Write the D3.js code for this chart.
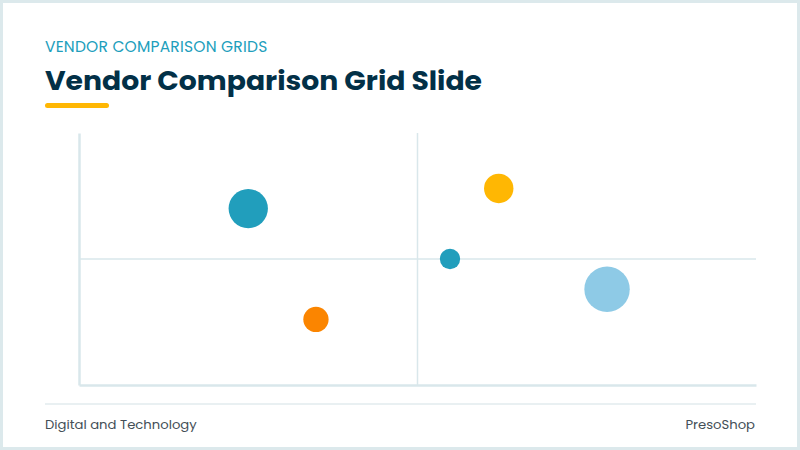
<!DOCTYPE html>
<html>
<head>
<meta charset="utf-8">
<script src="https://cdn.jsdelivr.net/npm/d3@7"></script>
<style>
  html, body { margin: 0; padding: 0; background: #dce9ec; }
  svg { display: block; }
  text { font-family: "Poppins", "Inter", "Open Sans", sans-serif; }
</style>
</head>
<body>
<div id="chart"></div>
<script>
const svgWidth = 800, svgHeight = 450,
    plot = { left: 79, right: 756, top: 133, bottom: 385 };

// vendors: x = capability, y = vision, size = market share
const vendors = ["Vendor A", "Vendor B", "Vendor C", "Vendor D", "Vendor E"];
const xValues = [2.5, 3.5, 5.48, 6.2, 7.8];
const yValues = [7.0, 2.6, 5.0, 7.8, 3.8];
const sizeValues = [75, 31, 20, 42, 100];
const colors = ["#219ebc", "#fb8500", "#219ebc", "#ffb703", "#8ecae6"];

const xDomain = [0, 10], yDomain = [0, 10];

let svg = d3.select("#chart").append("svg")
    .attr("width", svgWidth)
    .attr("height", svgHeight);

// white card
svg.append("rect")
    .attr("x", 3).attr("y", 3)
    .attr("width", svgWidth - 6).attr("height", svgHeight - 6)
    .attr("fill", "#ffffff");

// header
svg.append("text")
    .attr("x", 45).attr("y", 52)
    .attr("font-size", 15.5)
    .attr("fill", "#219ebc")
    .attr("letter-spacing", 0.2)
    .text("VENDOR COMPARISON GRIDS");

let title = svg.append("text")
    .attr("x", 45).attr("y", 90)
    .attr("font-size", 27)
    .attr("font-weight", 700)
    .attr("fill", "#023047")
    .text("Vendor Comparison Grid Slide");
// stretch to the width of the original heading
let tw = title.node().getComputedTextLength();
if (tw > 0) title.attr("textLength", 437).attr("lengthAdjust", "spacingAndGlyphs");

svg.append("rect")
    .attr("x", 45).attr("y", 103)
    .attr("width", 64).attr("height", 5)
    .attr("rx", 2.5)
    .attr("fill", "#ffb703");

// scales
let xScale = d3.scaleLinear().domain(xDomain).range([plot.left, plot.right]);
let yScale = d3.scaleLinear().domain(yDomain).range([plot.bottom, plot.top]);
let rScale = d3.scaleSqrt().domain([0, d3.max(sizeValues)]).range([0, 22.7]);

const gridColor = "#d9e7eb";

// quadrant lines
svg.append("line")
    .attr("x1", xScale(5)).attr("x2", xScale(5))
    .attr("y1", plot.top).attr("y2", plot.bottom)
    .attr("stroke", gridColor).attr("stroke-width", 1.5);
svg.append("line")
    .attr("x1", plot.left).attr("x2", plot.right)
    .attr("y1", yScale(5)).attr("y2", yScale(5))
    .attr("stroke", gridColor).attr("stroke-width", 1.5);

// axes (no ticks)
svg.append("g")
    .attr("transform", `translate(0, ${plot.bottom})`)
    .call(d3.axisBottom(xScale).tickValues([]).tickSizeOuter(0))
    .call(g => g.select(".domain").attr("stroke", gridColor).attr("stroke-width", 2.5));
svg.append("g")
    .attr("transform", `translate(${plot.left}, 0)`)
    .call(d3.axisLeft(yScale).tickValues([]).tickSizeOuter(0))
    .call(g => g.select(".domain").attr("stroke", gridColor).attr("stroke-width", 2.5));

// bubbles
let data = vendors.map((v, i) => ({ name: v, x: xValues[i], y: yValues[i], size: sizeValues[i], color: colors[i] }));
svg.append("g").selectAll("circle")
    .data(data)
    .join("circle")
    .attr("cx", d => xScale(d.x))
    .attr("cy", d => yScale(d.y))
    .attr("r", d => rScale(d.size))
    .attr("fill", d => d.color);

// footer
svg.append("line")
    .attr("x1", 45).attr("x2", 756)
    .attr("y1", 404).attr("y2", 404)
    .attr("stroke", "#e2ebee").attr("stroke-width", 1.5);
svg.append("text")
    .attr("x", 45).attr("y", 429)
    .attr("font-size", 13.2)
    .attr("fill", "#444f57")
    .text("Digital and Technology");
svg.append("text")
    .attr("x", 755).attr("y", 429)
    .attr("text-anchor", "end")
    .attr("font-size", 13.2)
    .attr("fill", "#444f57")
    .text("PresoShop");
</script>
</body>
</html>
